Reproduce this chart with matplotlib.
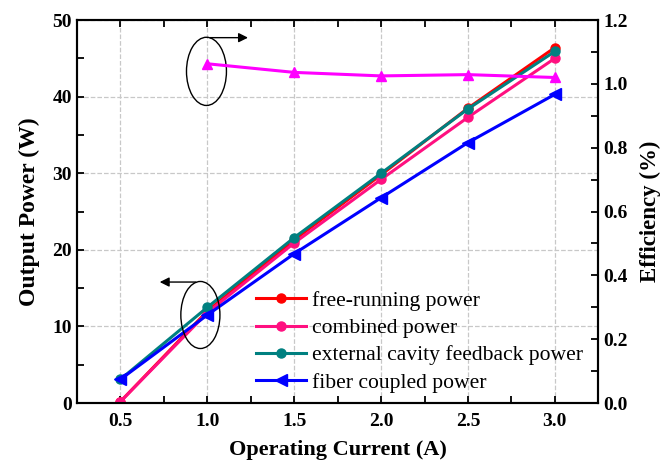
import matplotlib
matplotlib.use("Agg")
import matplotlib.pyplot as plt
from matplotlib.patches import Ellipse
from matplotlib.ticker import MultipleLocator

plt.rcParams['font.family'] = ['Liberation Serif', 'DejaVu Serif']
plt.rcParams['mathtext.fontset'] = 'stix'

current = [0.5, 1.0, 1.5, 2.0, 2.5, 3.0]
free_running = [0.2, 12.0, 21.3, 29.8, 38.5, 46.4]
combined = [0.2, 11.8, 20.9, 29.2, 37.3, 45.0]
external_cavity = [3.1, 12.5, 21.6, 30.0, 38.4, 45.9]
fiber_coupled = [3.1, 11.5, 19.5, 26.8, 34.0, 40.3]
eff_current = [1.0, 1.5, 2.0, 2.5, 3.0]
efficiency = [1.063, 1.036, 1.025, 1.029, 1.020]

labels = ["free-running power", "combined power",
          "external cavity feedback power", "fiber coupled power"]

fig = plt.figure(figsize=(6.64, 4.66), dpi=100)
ax = fig.add_axes([0.116, 0.135, 0.785, 0.822])
ax2 = ax.twinx()

lw = 2.2
ax.plot(current, free_running, color='#FF0000', lw=lw, marker='o', ms=6.5, label=labels[0], zorder=3)
ax.plot(current, combined, color='#FF1080', lw=lw, marker='o', ms=6.5, label=labels[1], zorder=3)
ax.plot(current, external_cavity, color='#008080', lw=lw, marker='o', ms=6.5, label=labels[2], zorder=3)
ax.plot(current, fiber_coupled, color='#0000FF', lw=lw, marker='<', ms=9, label=labels[3], zorder=3)
ax2.plot(eff_current, efficiency, color='#FF00FF', lw=2.2, marker='^', ms=7.5)

ax.set_xlim(0.25, 3.25)
ax.set_ylim(0, 50)
ax2.set_ylim(0, 1.2)

ax.xaxis.set_major_locator(MultipleLocator(0.5))
ax.xaxis.set_minor_locator(MultipleLocator(0.25))
ax.yaxis.set_major_locator(MultipleLocator(10))
ax.yaxis.set_minor_locator(MultipleLocator(5))
ax2.yaxis.set_major_locator(MultipleLocator(0.2))
ax2.yaxis.set_minor_locator(MultipleLocator(0.1))

ax.set_xticks([0.5, 1.0, 1.5, 2.0, 2.5, 3.0])
ax.set_xticklabels(['0.5', '1.0', '1.5', '2.0', '2.5', '3.0'])

ax.grid(True, which='major', color='#c8c8c8', ls='--', lw=0.9)
ax.set_axisbelow(True)

for a in (ax, ax2):
    for s in a.spines.values():
        s.set_linewidth(1.5)
ax.tick_params(which='both', direction='in', length=5, width=1.3, top=True, right=False,
               labelsize=14)
ax.tick_params(axis='x', pad=7)
ax2.tick_params(which='both', direction='in', length=5, width=1.3, labelsize=14)
for lab in ax.get_xticklabels() + ax.get_yticklabels() + ax2.get_yticklabels():
    lab.set_fontweight('bold')

ax.set_xlabel('Operating Current (A)', fontsize=16, fontweight='bold', labelpad=7)
ax.set_ylabel('Output Power (W)', fontsize=17, fontweight='bold', labelpad=9)
ax2.set_ylabel('Efficiency (%)', fontsize=16.5, fontweight='bold', labelpad=9)

# annotations
ax.add_patch(Ellipse((0.995, 43.3), 0.23, 8.9, fill=False, ec='black', lw=1.0, zorder=4))
ax.annotate('', xy=(1.25, 47.7), xytext=(1.0, 47.7),
            arrowprops=dict(arrowstyle='-|>', color='black', lw=1.0, mutation_scale=14))
ax.add_patch(Ellipse((0.96, 11.5), 0.225, 8.75, fill=False, ec='black', lw=1.0, zorder=4))
ax.annotate('', xy=(0.71, 15.8), xytext=(0.95, 15.8),
            arrowprops=dict(arrowstyle='-|>', color='black', lw=1.0, mutation_scale=14))

leg = ax.legend(loc='lower left', bbox_to_anchor=(0.343, 0.027), frameon=False,
                fontsize=15.6, borderpad=0, borderaxespad=0, handlelength=2.3,
                handletextpad=0.3, labelspacing=0.33)
leg.set_zorder(5)

fig.savefig('out.png', dpi=100)
